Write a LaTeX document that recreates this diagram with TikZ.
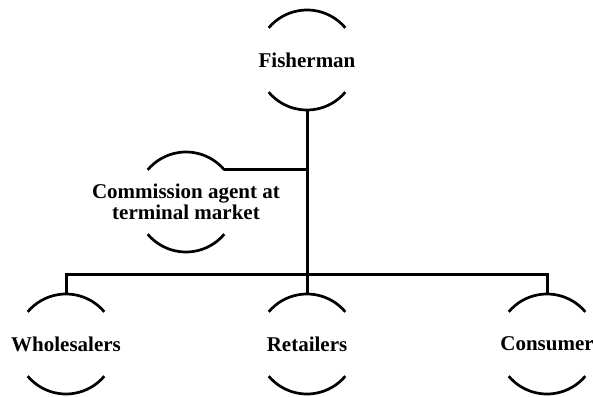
\documentclass[tikz,border=0pt]{standalone}
\usepackage{fontspec}
\setmainfont{Liberation Serif}
\begin{document}
\begin{tikzpicture}[x=1pt,y=1pt,
  lbl/.style={inner sep=0pt,align=center,font=\bfseries\fontsize{21}{21}\selectfont},
  arcline/.style={line width=2.7pt},
  conn/.style={line width=3pt}]
\useasboundingbox (0,0) rectangle (593,-396);
\newcommand\halfarcs[1]{%
  \draw[arcline] ([shift={(40:50pt)}]#1.center) arc[start angle=40,end angle=140,radius=50pt];
  \draw[arcline] ([shift={(220:50pt)}]#1.center) arc[start angle=220,end angle=320,radius=50pt];}
\node[lbl] (f) at (307,-60) {Fisherman};
\node[lbl] (c) at (186,-202) {Commission agent at\\terminal market};
\node[lbl] (w) at (66,-344) {Wholesalers};
\node[lbl] (r) at (307,-344) {Retailers};
\node[lbl] (k) at (547,-344) {Consumer};
\foreach \n in {f,c,w,r,k} {\halfarcs{\n}}
\coordinate (fb) at ([yshift=-50pt]f.center);
\coordinate (ct) at ([shift={(40:50pt)}]c.center);
\coordinate (j) at (307,-274);
\coordinate (wt) at ([yshift=50pt]w.center);
\coordinate (rt) at ([yshift=50pt]r.center);
\coordinate (kt) at ([yshift=50pt]k.center);
\draw[conn] (fb) -- (j);
\draw[conn] (ct) -- (ct -| fb);
\draw[conn] (wt) -- (wt |- j) -- (kt |- j) -- (kt);
\draw[conn] (j) -- (rt);
\end{tikzpicture}
\end{document}
